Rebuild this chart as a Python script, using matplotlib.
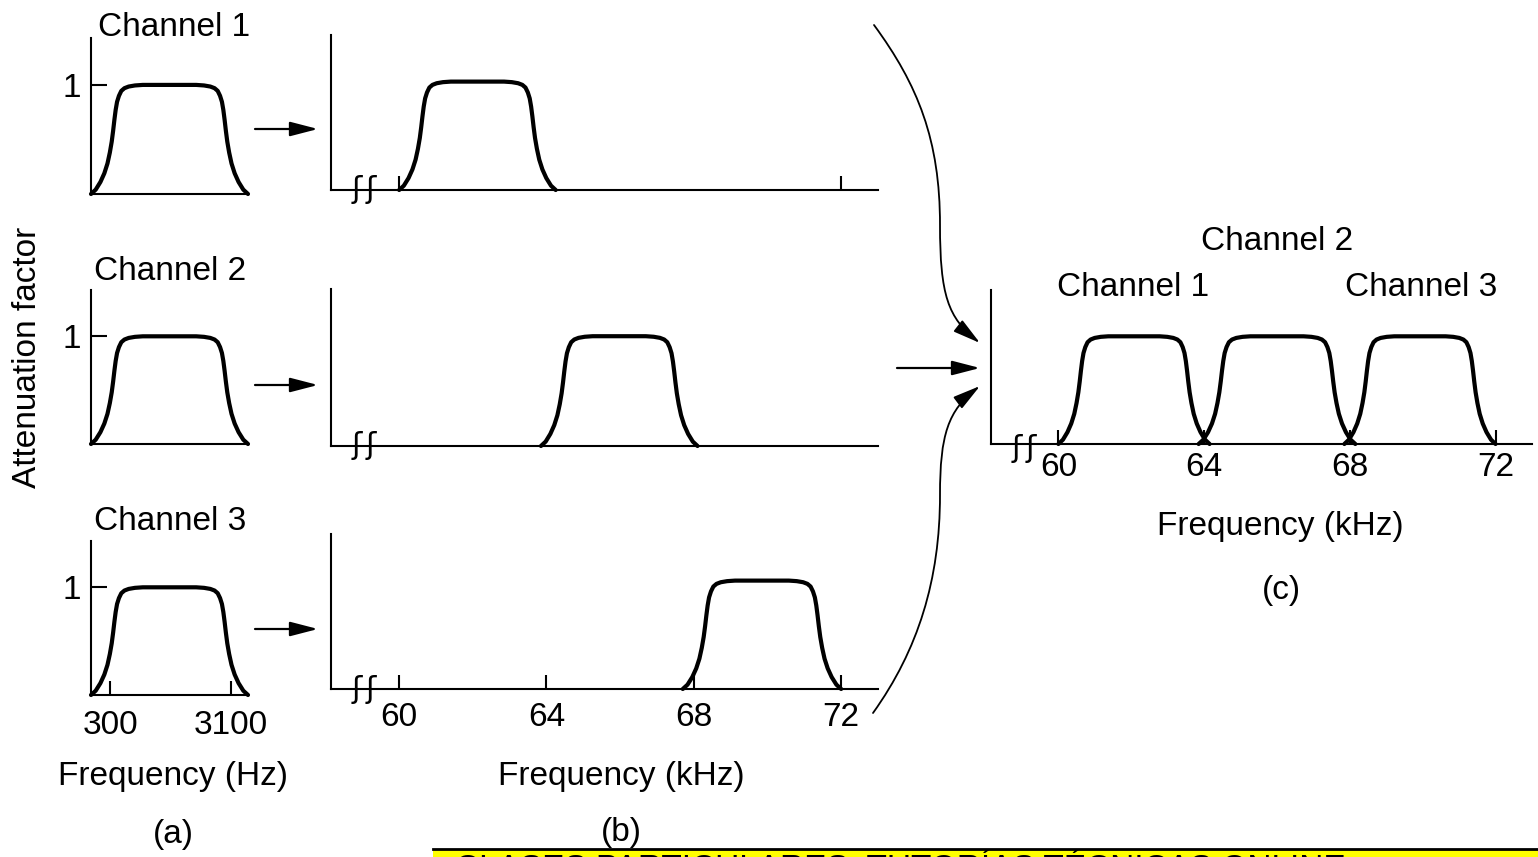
import matplotlib
matplotlib.use("Agg")
import matplotlib.pyplot as plt
from matplotlib.patches import FancyArrowPatch, Rectangle
from matplotlib.path import Path

plt.rcParams['font.family'] = ['Liberation Sans', 'DejaVu Sans']

shape_f = [0, 0.030, 0.060, 0.085, 0.105, 0.120, 0.132, 0.141, 0.149, 0.157, 0.166,
           0.178, 0.193, 0.213, 0.240, 0.280, 0.330, 0.5,
           0.670, 0.720, 0.760, 0.787, 0.807, 0.822, 0.834, 0.843, 0.851, 0.859,
           0.868, 0.880, 0.895, 0.915, 0.940, 0.970, 1.0]
shape_h = [0, 0.040, 0.110, 0.190, 0.280, 0.380, 0.480, 0.580, 0.680, 0.770, 0.845,
           0.900, 0.945, 0.970, 0.985, 0.995, 1.0, 1.0,
           1.0, 0.995, 0.985, 0.970, 0.945, 0.900, 0.845, 0.770, 0.680, 0.580,
           0.480, 0.380, 0.280, 0.190, 0.110, 0.040, 0]

channels = ['Channel 1', 'Channel 2', 'Channel 3']

# (a) voice channels, Hz
base_lo, base_hi = -140, 3495
base_ticks = [300, 3100]
base_labels = ['300', '3100']

# (b) each channel shifted up, kHz
shift_lo = [60.0, 63.85, 67.7]
shift_hi = [64.25, 68.1, 72.0]
shift_tick_sets = [[60, 72], [], [60, 64, 68, 72]]

# (c) multiplexed, kHz
mux_lo = [60.0, 63.85, 67.85]
mux_hi = [64.15, 68.15, 72.0]
khz_ticks = [60, 64, 68, 72]
khz_xlim = (58.15, 73.0)

W, H = 1538, 857
fig = plt.figure(figsize=(W / 100, H / 100), dpi=100)


def box(l, t, r, b):
    return [l / W, 1 - b / H, (r - l) / W, (b - t) / H]


def style(ax):
    ax.spines['top'].set_visible(False)
    ax.spines['right'].set_visible(False)
    ax.spines['left'].set_linewidth(1.5)
    ax.spines['bottom'].set_linewidth(1.5)
    ax.tick_params(direction='in', width=1.5, length=10, labelsize=24)
    ax.set_ylim(0, 1.43)
    ax.set_yticks([])
    ax.patch.set_alpha(0)


def band(ax, lo, hi):
    xs = [lo + f * (hi - lo) for f in shape_f]
    ax.plot(xs, shape_h, color='black', lw=3.0, clip_on=False,
            solid_capstyle='round', solid_joinstyle='round')


def breaks(ax, x, y):
    # the two squiggles that mark the broken frequency axis
    for dx in (-0.19, 0.19):
        ax.text(x + dx, y, 'ʃ', fontsize=22, ha='center', va='center',
                family=['DejaVu Sans'])


# ---- (a)
a_boxes = [(91, 38, 248, 194), (91, 290, 248, 444), (91, 541, 248, 695)]
for i, bx in enumerate(a_boxes):
    ax = fig.add_axes(box(*bx))
    style(ax)
    band(ax, base_lo, base_hi)
    ax.set_xlim(base_lo, base_hi)
    ax.set_yticks([1])
    ax.set_yticklabels(['1'])
    ax.tick_params(axis='y', length=11.5, pad=7)
    if i == 2:
        ax.set_xticks(base_ticks)
        ax.set_xticklabels(base_labels)
        ax.tick_params(axis='x', pad=11)
    else:
        ax.set_xticks([])

# ---- (b)
b_boxes = [(331, 35, 878, 190), (331, 289, 878, 446), (331, 534, 878, 689)]
for i, bx in enumerate(b_boxes):
    ax = fig.add_axes(box(*bx))
    style(ax)
    band(ax, shift_lo[i], shift_hi[i])
    ax.set_xlim(*khz_xlim)
    ax.set_xticks(shift_tick_sets[i])
    if i == 2:
        ax.set_xticklabels([str(t) for t in khz_ticks])
        ax.tick_params(axis='x', pad=9)
    else:
        ax.set_xticklabels([])
    breaks(ax, 59.05, 0.0)

# ---- (c)
ax = fig.add_axes(box(991, 290, 1532, 444))
style(ax)
for lo, hi in zip(mux_lo, mux_hi):
    band(ax, lo, hi)
ax.set_xlim(*khz_xlim)
ax.set_xticks(khz_ticks)
ax.set_xticklabels([str(t) for t in khz_ticks])
ax.tick_params(axis='x', pad=6)
breaks(ax, 59.05, -0.04)

# ---- overlay for labels and arrows (pixel coordinates)
ov = fig.add_axes([0, 0, 1, 1], zorder=5)
ov.set_xlim(0, W)
ov.set_ylim(H, 0)
ov.axis('off')
fs = 24

ov.text(174, 27, channels[0], fontsize=fs, ha='center', va='center')
ov.text(170, 272, channels[1], fontsize=fs, ha='center', va='center')
ov.text(170, 522, channels[2], fontsize=fs, ha='center', va='center')
ov.text(28, 357, 'Attenuation factor', fontsize=fs, ha='center', va='center', rotation=90)
ov.text(173, 776, 'Frequency (Hz)', fontsize=fs, ha='center', va='center')
ov.text(173, 835, '(a)', fontsize=fs, ha='center', va='center')
ov.text(621, 776, 'Frequency (kHz)', fontsize=fs, ha='center', va='center')
ov.text(621, 833, '(b)', fontsize=fs, ha='center', va='center')
ov.text(1277, 241, channels[1], fontsize=fs, ha='center', va='center')
ov.text(1133, 288, channels[0], fontsize=fs, ha='center', va='center')
ov.text(1421, 288, channels[2], fontsize=fs, ha='center', va='center')
ov.text(1280, 527, 'Frequency (kHz)', fontsize=fs, ha='center', va='center')
ov.text(1281, 590, '(c)', fontsize=fs, ha='center', va='center')

head = '-|>,head_length=0.85,head_width=0.22'
for y in [129, 385, 629]:
    ov.add_patch(FancyArrowPatch((255, y), (318, y), arrowstyle=head, mutation_scale=20,
                                 lw=1.6, color='black', shrinkA=0, shrinkB=0))
ov.add_patch(FancyArrowPatch((897, 368), (980, 368), arrowstyle=head, mutation_scale=20,
                             lw=1.6, color='black', shrinkA=0, shrinkB=0))

codes = [Path.MOVETO] + [Path.CURVE4] * 6
top_path = Path([(874, 25), (918, 85), (940, 140), (940, 225),
                 (940, 295), (948, 318), (980, 343)], codes)
bot_path = Path([(873, 713), (918, 650), (940, 580), (940, 495),
                 (940, 435), (948, 410), (980, 386)], codes)
for p in [top_path, bot_path]:
    ov.add_patch(FancyArrowPatch(path=p, arrowstyle=head, mutation_scale=20,
                                 lw=1.3, color='black'))

# cut-off banner at the bottom
ov.add_patch(Rectangle((433, 849), W - 433, 10, facecolor='#ffff00', edgecolor='none'))
ov.plot([433, W], [849, 849], color='black', lw=2)
ov.text(455, 851, 'CLASES PARTICULARES, TUTORÍAS TÉCNICAS ONLINE', fontsize=fs,
        ha='left', va='top')

fig.savefig('out.png', dpi=100)
